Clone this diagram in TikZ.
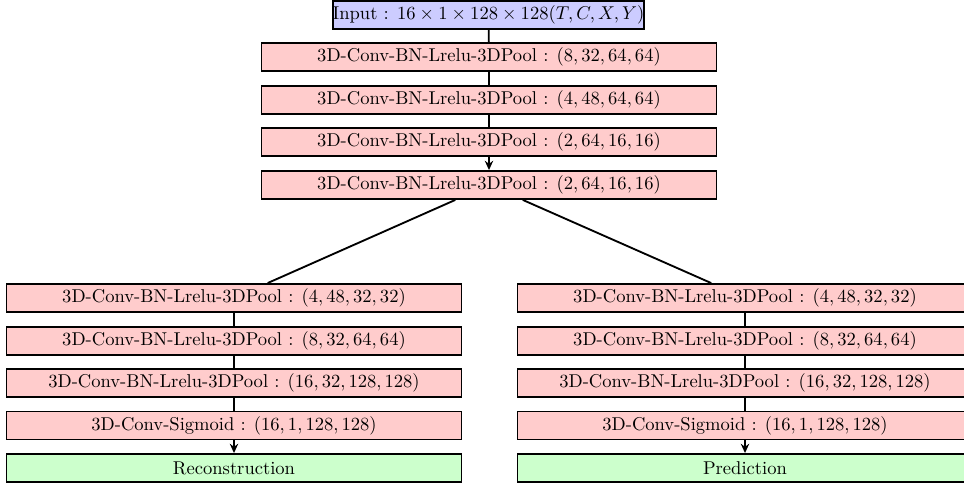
\documentclass[tikz,border=0pt]{standalone}
\usetikzlibrary{arrows.meta}
\begin{document}
\begin{tikzpicture}[x=0.539pt,y=-0.539pt,
  layer/.style={draw=black,line width=1pt,fill=red!20,minimum width=455*0.539pt,minimum height=28*0.539pt,inner sep=0pt,anchor=center},
  inbox/.style={draw=black,line width=1pt,fill=blue!20,minimum width=303*0.539pt,minimum height=28*0.539pt,inner sep=0pt,anchor=center},
  outbox/.style={layer,fill=green!20},
  conn/.style={line width=1pt},
  arr/.style={line width=1pt,-{Stealth[length=5pt,width=4.5pt]}}]
\useasboundingbox (0,0) rectangle (964,487);
\node[inbox] (in) at (488.5,15) {Input : $16\times 1\times 128\times 128(T,C,X,Y)$};
\node[layer] (b1) at (489,57) {3D-Conv-BN-Lrelu-3DPool : $(8,32,64,64)$};
\node[layer] (b2) at (489,100) {3D-Conv-BN-Lrelu-3DPool : $(4,48,64,64)$};
\node[layer] (b3) at (489,142) {3D-Conv-BN-Lrelu-3DPool : $(2,64,16,16)$};
\node[layer] (b4) at (489,185) {3D-Conv-BN-Lrelu-3DPool : $(2,64,16,16)$};
\node[layer] (l1) at (234,298) {3D-Conv-BN-Lrelu-3DPool : $(4,48,32,32)$};
\node[layer] (l2) at (234,341) {3D-Conv-BN-Lrelu-3DPool : $(8,32,64,64)$};
\node[layer] (l3) at (234,383) {3D-Conv-BN-Lrelu-3DPool : $(16,32,128,128)$};
\node[layer] (l4) at (234,425.5) {3D-Conv-Sigmoid : $(16,1,128,128)$};
\node[outbox] (lo) at (234,468) {Reconstruction};
\node[layer] (r1) at (745,298) {3D-Conv-BN-Lrelu-3DPool : $(4,48,32,32)$};
\node[layer] (r2) at (745,341) {3D-Conv-BN-Lrelu-3DPool : $(8,32,64,64)$};
\node[layer] (r3) at (745,383) {3D-Conv-BN-Lrelu-3DPool : $(16,32,128,128)$};
\node[layer] (r4) at (745,425.5) {3D-Conv-Sigmoid : $(16,1,128,128)$};
\node[outbox] (ro) at (745,468) {Prediction};
\draw[conn] (in) -- (b1);
\draw[conn] (b1) -- (b2);
\draw[conn] (b2) -- (b3);
\draw[arr] (b3) -- (b4);
\draw[conn] (b4) -- (l1);
\draw[conn] (b4) -- (r1);
\draw[conn] (l1) -- (l2);
\draw[conn] (l2) -- (l3);
\draw[conn] (l3) -- (l4);
\draw[arr] (l4) -- (lo);
\draw[conn] (r1) -- (r2);
\draw[conn] (r2) -- (r3);
\draw[conn] (r3) -- (r4);
\draw[arr] (r4) -- (ro);
\end{tikzpicture}
\end{document}
